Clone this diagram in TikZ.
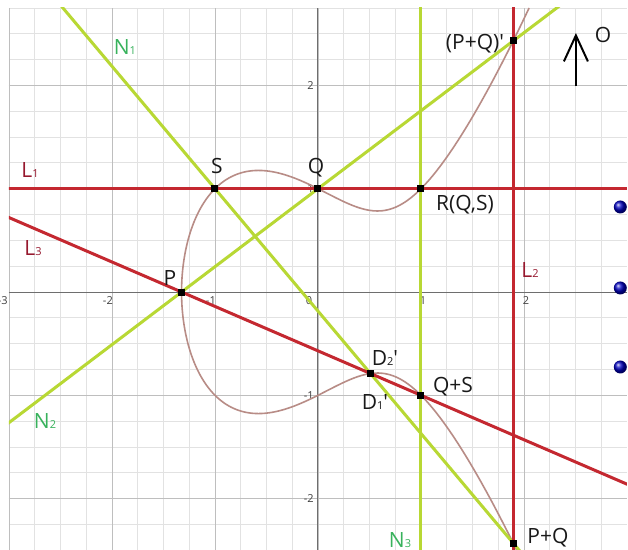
\documentclass[tikz,border=0pt]{standalone}
\usepackage{fontspec}
\setmainfont{Open Sans}[Ligatures=TeXOff]
\usetikzlibrary{calc,arrows.meta,shapes.geometric}
\definecolor{redline}{RGB}{196,40,48}
\definecolor{greenline}{RGB}{184,216,52}
\definecolor{curvecol}{RGB}{184,140,134}
\definecolor{lab}{RGB}{150,24,46}
\definecolor{nlab}{RGB}{56,178,92}
\definecolor{minorgrid}{RGB}{226,226,226}
\definecolor{majorgrid}{RGB}{190,190,190}
\definecolor{axiscol}{RGB}{110,110,110}
\newcommand{\sbs}[1]{{\fontsize{11}{11}\selectfont #1}}
\begin{document}
\begin{tikzpicture}[x=103pt,y=103.3pt,
  redl/.style={draw=redline,line width=3pt},
  greenl/.style={draw=greenline,line width=3pt},
  curvel/.style={draw=curvecol,line width=1.6pt},
  pt/.style={rectangle,fill=black,minimum size=7pt,inner sep=0pt},
  lbl/.style={font=\fontsize{21}{21}\selectfont,text=black!90,inner sep=0pt},
  llbl/.style={font=\fontsize{21}{21}\selectfont,text=lab,inner sep=0pt},
  nlbl/.style={font=\fontsize{21}{21}\selectfont,text=nlab,inner sep=0pt},
  tick/.style={font=\fontsize{11}{11}\selectfont,text=black!75,inner sep=0pt},
  bluedot/.style={circle,ball color=blue!75!black,minimum size=13pt,inner sep=0pt},
  declare function={ex(\t)=-1.3247+\t*\t; ey(\t)=\t*sqrt(ex(\t)*ex(\t)-1.3247*ex(\t)+0.7548);}
]
\useasboundingbox[fill=white] (-3.0874,-2.4976) rectangle (3.0097,2.8267);
% grid
\begin{scope}
\clip (-3,-2.5) rectangle (3,2.75);
\draw[minorgrid,line width=0.8pt] (-3,-2.5) grid[step=0.25] (3,2.75);
\draw[majorgrid,line width=0.9pt] (-3,-3) grid[step=1] (3,2.75);
\draw[axiscol,line width=1pt] (-3,0) -- (3,0);
\draw[axiscol,line width=1pt] (0,-2.5) -- (0,2.75);
\end{scope}
% tick labels
\node[tick] (tx3) at (-3.06,-0.087) {-3};
\node[tick] (tx2) at (-2.04,-0.087) {-2};
\node[tick] (tx1) at (-1.04,-0.087) {-1};
\node[tick] (tx0) at (-0.087,-0.087) {0};
\node[tick] (txp1) at (1.02,-0.087) {1};
\node[tick] (txp2) at (2.02,-0.087) {2};
\node[tick,anchor=east] (ty2) at (-0.04,2.0) {2};
\node[tick,anchor=east] (ty1) at (-0.04,1.0) {1};
\node[tick,anchor=east] (tym1) at (-0.04,-1.0) {-1};
\node[tick,anchor=east] (tym2) at (-0.04,-2.0) {-2};
% points
\coordinate (P) at (-1.3247,0);
\coordinate (S) at (-1,1);
\coordinate (Q) at (0,1);
\coordinate (R) at (1,1);
\coordinate (QS) at (1,-1);
\coordinate (D) at (0.5098,-0.7891);
\coordinate (PQp) at (1.8946,2.4302);
\coordinate (PQ) at (1.8946,-2.4302);
\begin{scope}
\clip (-3,-2.5) rectangle (3,2.75);
% curve
\draw[curvel] plot[domain=-1.81:1.84,samples=240,variable=\t,smooth] ({ex(\t)},{ey(\t)});
% green lines
\draw[greenl] ($(P)!-1.3!(Q)$) -- ($(P)!2.8!(Q)$);
\draw[greenl] ($(S)!-0.6!(PQ)$) -- ($(S)!1.1!(PQ)$);
\draw[greenl] ($(R)!-0.9!(QS)$) -- ($(R)!1.8!(QS)$);
% red lines
\draw[redl] ($(S)!-1.1!(R)$) -- ($(S)!2.1!(R)$);
\draw[redl] ($(PQp)!-0.1!(PQ)$) -- ($(PQp)!1.1!(PQ)$);
\draw[redl] ($(P)!-0.8!(QS)$) -- ($(P)!1.9!(QS)$);
\end{scope}
% point markers
\node[pt] (mP) at (P) {};
\node[pt] (mS) at (S) {};
\node[pt] (mQ) at (Q) {};
\node[pt] (mR) at (R) {};
\node[pt] (mQS) at (QS) {};
\node[pt] (mD) at (D) {};
\node[pt] (mPQp) at (PQp) {};
\node[pt] (mPQ) at (PQ) {};
% labels
\node[nlbl] (lN1) at (-1.874,2.372) {N\sbs{1}};
\node[nlbl] (lN2) at (-2.650,-1.249) {N\sbs{2}};
\node[nlbl] (lN3) at (0.796,-2.401) {N\sbs{3}};
\node[llbl] (lL1) at (-2.796,1.181) {L\sbs{1}};
\node[llbl] (lL2) at (2.058,0.213) {L\sbs{2}};
\node[llbl] (lL3) at (-2.767,0.426) {L\sbs{3}};
\node[lbl] (lS) at (-0.981,1.220) {S};
\node[lbl] (lQ) at (-0.019,1.200) {Q};
\node[lbl] (lP) at (-1.437,0.136) {P};
\node[lbl] (lPQp) at (1.524,2.401) {(P+Q)'};
\node[lbl] (lR) at (1.427,0.842) {R(Q,S)};
\node[lbl] (lD2) at (0.650,-0.639) {D\sbs{2}'};
\node[lbl] (lD1) at (0.553,-1.065) {D\sbs{1}'};
\node[lbl] (lQS) at (1.311,-0.920) {Q+S};
\node[lbl] (lPQ) at (2.233,-2.381) {P+Q};
\node[lbl] (lO) at (2.767,2.488) {O};
% arrow
\coordinate (ob) at (2.504,1.994);
\coordinate (ot) at (2.504,2.507);
\draw[line width=2pt,-{Straight Barb[length=26pt,width=24pt]}] (ob) -- (ot);
% blue dots
\node[bluedot] (d1) at (2.935,0.823) {};
\node[bluedot] (d2) at (2.935,0.039) {};
\node[bluedot] (d3) at (2.935,-0.726) {};
\end{tikzpicture}
\end{document}
